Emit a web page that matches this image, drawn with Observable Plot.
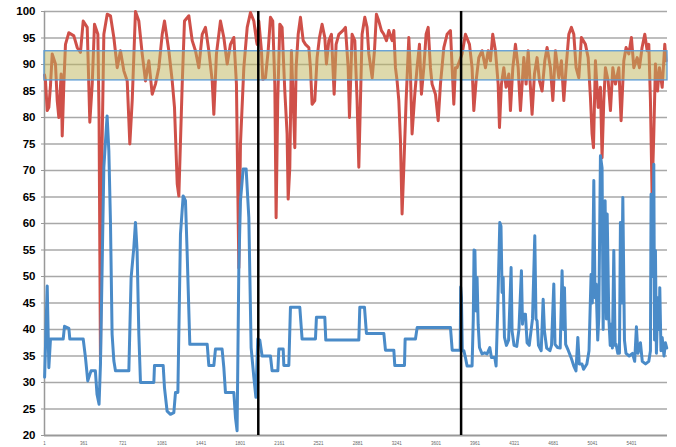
<!DOCTYPE html>
<html><head><meta charset="utf-8">
<script src="https://cdn.jsdelivr.net/npm/d3@7"></script>
<script src="https://cdn.jsdelivr.net/npm/@observablehq/plot@0.6"></script>
<style>
body{margin:0;background:#fff}
g[aria-label="y-axis tick label"] text{font-weight:bold}
</style>
</head><body><div id="chart"></div>
<script>
// Sample index (x) and value pairs
const redT = [1,9,25,40,55,71,101,117,132,153,163,178,193,224,270,301,331,356,393,417,439,460,491,502,515,530,546,577,607,638,669,699,730,761,785,807,837,868,899,929,960,991,1021,1052,1083,1104,1144,1175,1196,1221,1236,1267,1288,1328,1359,1389,1420,1451,1481,1512,1543,1558,1582,1619,1650,1681,1711,1742,1766,1788,1803,1834,1865,1895,1926,1950,1956,
1972,1996,2008,2033,2058,2079,2100,2119,2131,2146,2165,2186,2211,2232,2242,2257,2272,2288,2303,2315,2334,2355,2380,2401,2432,2447,2462,2487,2508,2530,2554,2579,2594,2616,2640,2665,2683,2708,2745,2769,2794,2806,2830,2855,2876,2892,2907,2922,2947,2968,2984,3015,3036,3054,3076,3100,3122,3146,3168,3198,3214,3229,3244,3260,3275,3290,3306,3327,3352,3367,3382,3407,3428,3450,3468,3490,3511,3530,3551,3566,3597,3622,3643,3674,3704,3735,3766,3781,
3796,3842,3873,3910,3934,3950,3971,3996,4026,4057,4082,4103,4124,4149,4174,4186,4204,4226,4247,4272,4287,4309,4333,4358,4379,4410,4431,4450,4471,4486,4508,4532,4554,4578,4603,4624,4655,4677,4701,4732,4756,4778,4799,4824,4848,4870,4891,4916,4940,4977,5002,5023,5038,5051,5069,5094,5115,5130,5146,5161,5186,5207,5229,5253,5284,5305,5330,5351,5376,5400,5422,5453,5474,5498,5523,5545,5560,5575,5590,5606,5621,5640,5658,5683,5707,5719];
const redV = [88,86.9,81.3,81.9,86,92,90.1,83.2,80,88.2,76.5,86.3,93.8,96,95.4,93.2,92.3,98.2,97,79.1,86.3,97.6,95.7,80,34,75,95.7,99.5,99.2,95.1,89.4,92.6,88.8,86.9,75,83.2,100,98.2,92,86.9,90.7,84.4,86.3,89.4,95.7,98.2,92.6,86.9,81.9,67.5,65.2,86.3,98.2,99.2,94.5,92.6,89.4,95.7,97,92.6,86.9,80.6,92,98.2,95.1,90.1,93.8,95.1,86.3,51.6,75,89.4,97,99.8,98.2,94.5,93.8,
98.2,92.6,87.2,87.5,92.6,98.9,98.2,86.3,61.1,83.2,97.6,97,85,76.9,64.6,70.6,92.6,83.2,74.3,89.4,95.7,98.9,94.5,93.8,93.2,89.4,82.5,83.2,91.3,95.1,97.6,95.1,90.1,94.5,95.7,84.4,93.8,95.7,96.4,97,89.4,80,95.7,94.5,83.2,70.6,83.2,95.7,98.9,97,92,87.5,92.6,99.5,98.2,96.4,95.7,94.5,96.4,94.5,96.4,89.4,86.9,83.2,75.6,61.8,70.6,83.2,95.1,88.2,76.9,84.4,89.4,93.8,84.4,89.4,95.7,97,89.4,86.3,84.4,79.4,86.3,93.2,95.7,96.4,82.5,89.4,
89.4,92,95.7,93.8,89.4,81.3,86.9,91.3,92.6,89.4,92.6,90.7,95.7,92.6,86.3,78.1,86.3,89.4,85.7,88.2,81.3,89.4,93.8,89.4,81.3,91.3,86.3,92.6,85.7,80.6,88.2,91.3,86.9,85,90.7,93.2,89.4,83.2,92.6,87.5,90.7,83.2,89.4,95.7,97,95.7,89.4,87.5,95.1,93.8,91.3,83.8,76.9,74.3,90.7,81.9,85.7,72.4,83.2,89.4,86.9,81.3,89.4,86.3,89.4,79.4,90.7,93.2,92,95.1,89.4,91.3,89.4,93.2,95.7,92.6,93.8,83.2,65.5,76.9,90.1,85,89.4,85.7,93.8,90.7];

const blueT = [1,25,40,55,172,184,224,233,356,377,398,428,468,483,502,515,546,576,592,607,622,638,653,776,797,822,837,852,868,883,1006,1012,1092,1104,1128,1159,1190,1205,1227,1251,1276,1297,1312,1337,1497,1512,1558,1573,1634,1650,1665,1742,1757,1772,1788,1803,1828,1855,1880,1901,1926,1945,
1962,1981,2002,2079,2094,2147,2156,2196,2202,2248,2263,2349,2370,2493,2502,2579,2588,2892,2901,2944,2962,3122,3137,3214,3223,3312,3318,3413,3429,3735,3751,3825,
3829,3836,3844,3858,3873,3888,3934,3945,3952,3960,3970,3980,3990,4002,4026,4050,4072,4097,4112,4143,4155,4170,4189,4200,4210,4220,4232,4250,4270,4293,4302,4320,4345,4365,4388,4398,4404,4425,4440,4460,4490,4511,4522,4532,4545,4570,4588,4600,4620,4650,4665,4686,4697,4720,4745,4762,4775,4784,4795,4820,4845,4870,4890,4907,4920,4945,4960,4990,5010,5029,5040,5054,5065,5075,5090,5100,5115,5130,5140,5146,5158,5170,5177,5192,5205,5213,5225,5238,5250,5259,5275,5290,5299,5310,5321,5336,5350,5380,5410,5430,5446,5460,5483,5500,5530,5560,5575,5581,5595,5606,5613,5621,5630,5643,5655,5661,5672,5683,5700,5713,5725];
const blueV = [31,48.2,32.8,38.2,38.2,40.6,40.2,38.2,38.2,34.7,30.3,32.2,32.2,27.8,25.9,33.5,70.6,80.3,73.7,60.2,39.1,34.1,32.2,32.2,49.8,55.5,60.2,54.8,39.1,30,30,33.2,33.2,29,24.6,24,24.3,28.1,28.1,58,65.2,64.3,54.8,37.2,37.2,33.2,33.2,36.3,36.3,32.8,28.1,28.1,23.4,20.9,51.7,64.3,70.3,70.3,61.1,36.6,31,27.2,
38.2,38,35,35,32.2,32.2,36.3,36.3,33.2,33.2,44.2,44.2,38.2,38.2,42.3,42.3,38,38,44.2,44.2,39.25,39.25,36.1,36.1,33.2,33.2,38.2,38.2,40.4,40.4,36.1,36.1,
48,46,36,36,34.7,33.1,33.1,42,55,54.9,43.5,49.8,41,36.6,35.4,35.6,35.4,36.6,34.7,34.7,33.1,44,60.2,59.5,47,49.8,38.5,37,38,51.7,39.7,37,36.8,40,51.1,41,42.9,42.9,37.5,37,42,57.7,42,41.6,37,36,45.7,39.7,36.5,36,37,48.6,37.2,36.6,36.5,51.1,40,47.9,37.2,36,34.7,33.1,32.2,38.5,33.5,33.5,32.5,33.5,36,50.4,45,68.1,46,48.6,38,42.3,72.8,70.5,40,52.3,64.3,42,61.8,42.3,37,41,36.5,54.9,37,37.2,35.5,35.5,60.2,45,64.9,38,35.5,35,35.5,34,40.5,35.5,37.5,34,33.5,34,36,65.5,50,71.2,38,54.9,35.5,46,40,47.9,36,38.5,35,37.5,36.5];

const bandRange = [87, 92.5];        // target band
const markerT = [1967, 3833];        // vertical black separators
const yTicks = d3.range(20, 101, 5);
const xTicks = d3.range(1, 5402, 360);
const xDomain = [0, 5732];

const red = redT.map((t, i) => ({t, v: redV[i]}));
const blue = blueT.map((t, i) => ({t, v: blueV[i]}));

const chart = Plot.plot({
  width: 676, height: 447,
  marginLeft: 44, marginRight: 9, marginTop: 11, marginBottom: 12,
  style: {fontFamily: "'Liberation Sans', Arial, sans-serif", background: "#fff", overflow: "visible"},
  x: {domain: xDomain, label: null},
  y: {domain: [20, 100], label: null},
  marks: [
    Plot.gridY(yTicks.filter(d => d > 20), {stroke: "#a8a8a8", strokeOpacity: 1, strokeWidth: 1.3}),
    Plot.axisY(yTicks, {tickSize: 3, tickPadding: 6, fontSize: 11.5, fontWeight: "bold", fill: "#000", stroke: "#999", label: null}),
    Plot.axisX(xTicks, {tickSize: 0, tickPadding: 6, fontSize: 4.5, fill: "#666", tickFormat: d3.format("d"), label: null}),
    Plot.ruleX([xDomain[0]], {stroke: "#999", strokeWidth: 1.5}),
    Plot.line(red, {x: "t", y: "v", stroke: "#cf5049", strokeWidth: 3, strokeLinejoin: "round"}),
    Plot.line(blue, {x: "t", y: "v", stroke: "#4a8bc8", strokeWidth: 3, strokeLinejoin: "round"}),
    Plot.ruleY([20], {stroke: "#999", strokeWidth: 2}),
    Plot.rect([bandRange], {x1: xDomain[0], x2: xDomain[1], y1: d => d[0], y2: d => d[1], fill: "#bdb45a", fillOpacity: 0.5, stroke: "#5b9bd5", strokeWidth: 1.3}),
    Plot.ruleX(markerT, {stroke: "#000", strokeWidth: 2.5})
  ]
});
document.getElementById("chart").appendChild(chart);
</script>
</body></html>
